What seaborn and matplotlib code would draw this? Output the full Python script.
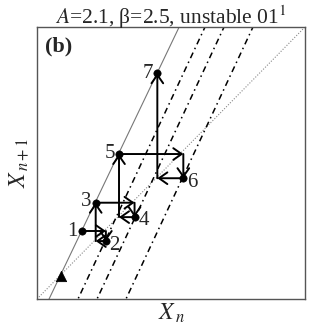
import numpy as np
import pandas as pd
import matplotlib
matplotlib.use("Agg")
import matplotlib.pyplot as plt
import seaborn as sns

# ---- data ----
point_labels = ["1", "2", "3", "4", "5", "6", "7"]
point_x = [0.167, 0.257, 0.219, 0.364, 0.306, 0.546, 0.449]
point_y = [0.250, 0.213, 0.354, 0.301, 0.533, 0.444, 0.830]
fixed_x = [0.090]
fixed_y = [0.085]
branch_x0 = [0.045]            # solid branch x-intercept
branch_slope = 2.06
dash_x0 = [0.153, 0.224, 0.332]  # dash-dot branches x-intercepts
dash_slope = 2.11
title = r"$A$=2.1, β=2.5, unstable 01$^1$"

sns.set_theme(style="white")
plt.rcParams["font.family"] = ["Liberation Serif", "DejaVu Serif"]
plt.rcParams["mathtext.fontset"] = "stix"

fig = plt.figure(figsize=(3.12, 3.34), dpi=100)
ax = fig.add_axes([37/312, 1-299/334, 268/312, 272/334])

# diagonal
diag = pd.DataFrame({"x": [0, 1], "y": [0, 1]})
sns.lineplot(data=diag, x="x", y="y", ax=ax, color="#888888", lw=0.8,
             linestyle=(0, (1, 1.5)), zorder=1)

# solid branch
xs = np.array([0.0, 1.0])
for x0 in branch_x0:
    df = pd.DataFrame({"x": xs, "y": (xs - x0) * branch_slope})
    sns.lineplot(data=df, x="x", y="y", ax=ax, color="#777777", lw=0.8, zorder=1)
for x0 in dash_x0:
    df = pd.DataFrame({"x": xs, "y": (xs - x0) * dash_slope})
    sns.lineplot(data=df, x="x", y="y", ax=ax, color="black", lw=1.1,
                 linestyle=(0, (4, 2.5, 1, 2.5)), zorder=1)

# cobweb path with arrows
path = []
for i in range(len(point_x)):
    path.append((point_x[i], point_y[i]))
    if i + 1 < len(point_x):
        path.append((point_x[i + 1], point_y[i]))
for (xa, ya), (xb, yb) in zip(path[:-1], path[1:]):
    ax.annotate("", xy=(xb, yb), xytext=(xa, ya),
                arrowprops=dict(arrowstyle="->,head_length=0.5,head_width=0.35",
                                lw=1.4, color="black", shrinkA=0, shrinkB=0),
                zorder=2)

pts = pd.DataFrame({"x": point_x, "y": point_y, "lab": point_labels})
sns.scatterplot(data=pts, x="x", y="y", ax=ax, color="black", s=28,
                edgecolor="black", zorder=3, legend=False)
sns.scatterplot(x=fixed_x, y=fixed_y, ax=ax, color="black", marker="^", s=55,
                edgecolor="black", zorder=3, legend=False)

offsets = {"1": (-4, 0, "right"), "2": (3, -4, "left"), "3": (-4, 1, "right"),
           "4": (4, -3, "left"), "5": (-4, 1, "right"), "6": (4, -4, "left"),
           "7": (-4, 0, "right")}
for lab, x, y in zip(point_labels, point_x, point_y):
    dx, dy, ha = offsets[lab]
    ax.annotate(lab, (x, y), xytext=(dx, dy), textcoords="offset pixels",
                ha=ha, va="center", fontsize=15, zorder=4)

ax.text(0.028, 0.965, "(b)", transform=ax.transAxes, fontsize=16,
        fontweight="bold", ha="left", va="top")

ax.set_xlim(0, 1)
ax.set_ylim(0, 1)
ax.set_xticks([])
ax.set_yticks([])
ax.set_xlabel(r"$X_{\,n}$", fontsize=17, labelpad=2)
ax.set_ylabel(r"$X_{\,n+1}$", fontsize=17, labelpad=4)
ax.set_title(title, fontsize=15.5, pad=2)
for s in ax.spines.values():
    s.set_color("#555555")
    s.set_linewidth(1.0)
    s.set_visible(True)

fig.savefig("out.png", dpi=100)
